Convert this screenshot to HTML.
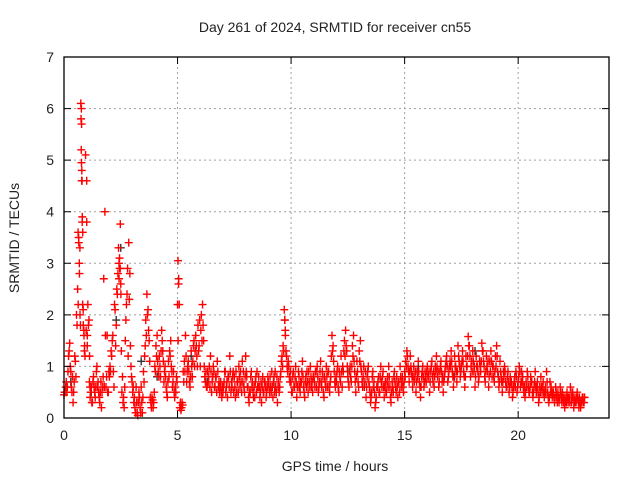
<!DOCTYPE html>
<html><head><meta charset="utf-8"><style>
body{margin:0;background:#fff}
svg{display:block}
text{font-family:"Liberation Sans",sans-serif;font-size:14px;fill:#222}
</style></head><body>
<svg id="chart" width="640" height="480">
<text x="335" y="32" text-anchor="middle">Day 261 of 2024, SRMTID for receiver cn55</text>
<text x="335" y="471" text-anchor="middle">GPS time / hours</text>
<text transform="translate(19,238) rotate(-90)" text-anchor="middle">SRMTID / TECUs</text>
<g id="grid"></g><g id="marks"></g><g id="axes"></g>
</svg>
<script>
const xTicks=[0,5,10,15,20];
const yTicks=[0,1,2,3,4,5,6,7];
const darkTimes=[0.3,1.2,2.3,2.5,3.4,4.1,5.6,6.3,9.3,12.5,15.6,17.2,18.1,19.5,20.8];
const darkValues=[0.7,0.5,1.9,3.3,1.1,0.8,1.2,0.7,0.6,0.9,1.0,0.8,1.3,0.6,0.5];
const times=[0,0.05,0.1,0.15,0.2,0.25,0.3,0.35,0.4,0.45,0.5,0.55,0.6,0.62,0.65,0.68,0.7,0.74,0.75,0.76,0.77,0.78,0.8,0.82,0.85,0.88,0.9,0.95,1.0,1.0,1.05,1.1,1.12,
1.15,1.2,1.25,1.3,1.35,1.4,1.45,1.5,1.55,1.6,1.65,1.7,1.75,1.8,1.85,1.9,1.95,2.0,2.05,2.1,2.15,2.2,2.25,2.3,2.35,2.4,2.42,2.45,2.48,2.5,2.55,2.6,2.65,2.7,2.75,2.8,2.85,2.9,2.95,
3.0,3.05,3.1,3.15,3.2,3.25,3.3,3.35,3.4,3.45,3.5,3.55,3.6,3.65,3.7,3.75,3.8,3.85,3.9,3.95,4.0,4.05,4.1,4.15,4.2,4.25,4.3,4.35,4.4,4.45,4.5,4.55,4.6,4.65,4.7,4.75,4.8,4.85,4.9,4.95,
5.0,5.02,5.05,5.1,5.15,5.2,5.25,5.3,5.35,5.4,5.45,5.5,5.55,5.6,5.65,5.7,5.75,5.8,5.85,5.9,5.95,6.0,6.05,6.1,6.15,6.2,6.25,6.3,6.35,6.4,6.45,6.5,6.55,6.6,6.65,6.7,6.75,6.8,6.85,6.9,6.95,
7.0,7.05,7.1,7.15,7.2,7.25,7.3,7.35,7.4,7.45,7.5,7.55,7.6,7.65,7.7,7.75,7.8,7.85,7.9,7.95,8.0,8.05,8.1,8.15,8.2,8.25,8.3,8.35,8.4,8.45,8.5,8.55,8.6,8.65,8.7,8.75,8.8,8.85,8.9,8.95,
9.0,9.05,9.1,9.15,9.2,9.25,9.3,9.35,9.4,9.45,9.5,9.55,9.6,9.65,9.7,9.72,9.75,9.8,9.85,9.9,9.95,10.0,10.05,10.1,10.15,10.2,10.25,10.3,10.35,10.4,10.45,10.5,10.55,10.6,10.65,10.7,10.75,10.8,10.85,10.9,10.95,
11.0,11.05,11.1,11.15,11.2,11.25,11.3,11.35,11.4,11.45,11.5,11.55,11.6,11.65,11.7,11.75,11.8,11.85,11.9,11.95,12.0,12.05,12.1,12.15,12.2,12.25,12.3,12.35,12.4,12.45,12.5,12.55,12.6,12.65,12.7,12.75,12.8,12.85,12.9,12.95,
13.0,13.05,13.1,13.15,13.2,13.25,13.3,13.35,13.4,13.45,13.5,13.55,13.6,13.65,13.7,13.75,13.8,13.85,13.9,13.95,14.0,14.05,14.1,14.15,14.2,14.25,14.3,14.35,14.4,14.45,14.5,14.55,14.6,14.65,14.7,14.75,14.8,14.85,14.9,14.95,
15.0,15.05,15.1,15.15,15.2,15.25,15.3,15.35,15.4,15.45,15.5,15.55,15.6,15.65,15.7,15.75,15.8,15.85,15.9,15.95,16.0,16.05,16.1,16.15,16.2,16.25,16.3,16.35,16.4,16.45,16.5,16.55,16.6,16.65,16.7,16.75,16.8,16.85,16.9,16.95,
17.0,17.05,17.1,17.15,17.2,17.25,17.3,17.35,17.4,17.45,17.5,17.55,17.6,17.65,17.7,17.75,17.8,17.85,17.9,17.95,18.0,18.05,18.1,18.15,18.2,18.25,18.3,18.35,18.4,18.45,18.5,18.55,18.6,18.65,18.7,18.75,18.8,18.85,18.9,18.95,
19.0,19.05,19.1,19.15,19.2,19.25,19.3,19.35,19.4,19.45,19.5,19.55,19.6,19.65,19.7,19.75,19.8,19.85,19.9,19.95,20.0,20.05,20.1,20.15,20.2,20.25,20.3,20.35,20.4,20.45,20.5,20.55,20.6,20.65,20.7,20.75,20.8,20.85,20.9,20.95,
21.0,21.05,21.1,21.15,21.2,21.25,21.3,21.35,21.4,21.45,21.5,21.55,21.6,21.65,21.7,21.75,21.8,21.85,21.9,21.95,22.0,22.05,22.1,22.15,22.2,22.25,22.3,22.35,22.4,22.45,22.5,22.55,22.6,22.65,22.7,22.75,22.8,22.85,22.9];
const values=[0.45,0.5,0.7,0.6,1.2,1.45,0.9,0.5,0.3,0.7,1.1,2.0,2.5,3.6,3.4,2.8,3.3,6.1,5.8,5.2,4.95,4.6,3.8,2.2,1.8,1.6,1.3,5.1,4.6,3.8,2.2,1.9,0.7,
0.4,0.6,0.3,0.8,0.5,0.6,1.0,0.7,0.4,0.5,0.2,0.6,2.7,4.0,0.6,1.6,0.5,0.8,0.9,1.2,1.6,0.6,2.1,1.8,2.4,3.3,3.0,2.9,3.76,2.6,0.5,0.3,0.2,1.5,2.2,2.9,3.4,2.8,1.0,
0.7,0.6,0.4,0.1,0.3,0.05,0.5,0.2,0.6,0.1,0.9,1.2,1.9,2.4,2.1,1.5,0.4,0.2,0.35,0.3,1.0,1.4,1.6,0.9,1.2,0.8,1.7,1.3,0.7,1.0,0.6,0.4,1.1,1.3,1.5,0.9,0.7,0.5,0.6,0.8,
2.2,3.05,2.7,0.2,0.15,0.3,0.9,1.1,1.6,0.7,1.0,0.9,0.6,1.3,0.8,1.4,1.0,1.6,1.2,1.8,1.4,1.0,2.0,2.2,1.5,0.8,0.9,0.6,0.7,1.0,1.2,0.5,0.8,0.9,0.6,0.8,1.1,0.6,0.5,0.7,0.4,
0.5,0.7,0.9,0.6,0.4,0.8,1.2,0.5,0.6,0.9,0.8,0.4,0.5,0.7,1.0,0.6,0.7,1.1,0.9,0.5,1.2,0.8,0.6,0.3,0.5,0.9,0.7,0.4,0.4,0.8,0.9,0.6,0.6,0.5,0.3,0.8,0.5,0.7,0.4,0.6,
0.7,0.5,0.6,0.9,0.4,0.8,0.9,0.5,0.3,0.7,0.6,0.9,1.2,1.4,2.1,1.9,1.6,1.2,0.9,1.0,0.7,0.7,0.5,0.9,0.6,1.0,0.4,0.6,0.8,0.5,0.7,1.1,0.6,0.4,0.8,0.9,0.5,0.7,1.0,0.6,0.5,
0.8,0.6,0.9,1.0,0.5,0.7,1.1,0.6,0.8,0.4,0.7,1.0,0.6,0.9,0.5,0.8,1.6,1.4,0.9,0.6,0.7,1.0,0.5,0.8,1.2,0.6,0.9,1.5,1.7,1.3,0.8,0.6,1.0,0.7,1.4,1.6,0.9,0.5,1.1,0.7,
1.3,1.5,0.9,0.6,1.0,0.7,0.4,0.8,1.0,0.6,0.3,0.5,0.9,0.7,0.2,0.4,0.6,0.8,0.5,1.0,0.6,0.9,0.4,0.7,0.5,0.8,1.0,0.6,0.3,0.7,0.5,0.9,0.6,0.8,0.4,0.7,1.0,0.6,0.8,0.5,
0.9,1.1,1.3,1.0,0.7,1.2,0.9,0.6,1.0,0.8,0.5,0.9,1.1,0.7,0.4,0.8,1.0,0.6,0.9,0.7,1.0,0.8,0.5,0.9,1.1,0.7,0.6,1.0,1.2,0.8,0.6,0.9,1.1,0.7,0.5,0.8,1.0,1.2,0.7,0.9,
1.1,1.3,0.9,0.6,1.2,1.0,0.7,1.4,1.1,0.8,1.0,1.3,0.9,0.6,1.2,1.0,1.58,1.4,0.8,1.1,1.3,0.9,0.6,1.2,1.0,0.7,1.1,0.9,1.45,1.3,1.0,0.7,1.2,0.9,0.6,1.1,1.3,0.8,1.0,0.7,
1.2,1.4,0.9,0.6,1.1,0.8,0.5,0.9,1.0,0.7,0.6,0.9,0.5,0.8,0.7,0.4,0.6,0.8,0.9,0.5,0.7,1.0,0.6,0.9,0.8,0.5,0.4,0.7,0.9,0.6,0.5,0.8,0.7,0.4,0.6,0.9,0.5,0.7,0.3,0.6,
0.8,0.5,0.7,0.4,0.6,0.9,0.5,0.3,0.7,0.6,0.4,0.5,0.3,0.6,0.4,0.5,0.3,0.6,0.4,0.5,0.3,0.2,0.4,0.5,0.3,0.4,0.6,0.3,0.5,0.2,0.4,0.3,0.5,0.3,0.4,0.2,0.3,0.4,0.3];
const values2=[0.5,0.6,0.5,0.9,1.3,1.0,0.6,0.8,0.5,1.2,0.8,1.8,2.2,3.5,3.0,2.0,1.8,6.0,5.7,4.8,4.6,3.9,3.6,2.1,1.7,1.4,1.2,1.7,1.6,1.4,1.8,1.2,0.6,
0.5,0.3,0.7,0.6,0.4,0.9,0.6,0.5,0.3,0.7,0.5,0.8,0.6,1.6,0.8,0.5,0.9,1.0,1.3,1.5,0.9,2.2,1.4,2.5,2.8,2.7,3.1,2.9,2.4,1.3,0.8,0.4,0.6,1.9,2.4,1.2,2.3,1.4,0.8,
0.5,0.3,0.2,0.6,0.1,0.3,0.4,0.1,0.3,0.4,0.7,1.4,1.6,2.0,1.7,1.1,0.3,0.4,0.2,0.5,0.9,1.2,1.1,0.8,1.0,1.3,1.5,1.1,0.9,0.8,0.5,0.7,0.8,1.2,1.0,0.6,0.9,0.4,0.5,0.7,
1.5,2.6,2.2,0.3,0.2,0.25,0.7,0.9,1.2,0.9,1.1,0.7,0.8,1.0,1.1,1.5,1.3,1.4,1.0,1.3,1.9,1.7,1.5,1.8,1.0,0.7,0.6,0.9,0.8,0.6,0.9,0.7,1.0,0.6,0.8,0.5,0.9,0.7,0.6,0.5,0.6,
0.6,0.9,0.5,0.7,0.8,0.6,0.9,0.7,0.8,0.5,0.6,0.9,0.7,0.5,0.8,0.9,0.5,0.7,0.6,0.8,0.9,0.6,0.4,0.5,0.8,0.6,0.5,0.6,0.7,0.5,0.6,0.8,0.4,0.7,0.6,0.5,0.7,0.6,0.5,0.8,
0.6,0.8,0.5,0.6,0.7,0.5,0.6,0.8,0.6,0.5,0.8,1.1,1.0,1.3,1.9,1.7,1.3,1.0,1.1,0.8,0.9,0.5,0.8,0.6,0.8,0.7,0.6,0.9,0.6,0.7,0.9,0.8,0.5,0.7,0.6,0.7,0.9,0.6,0.8,0.7,0.8,
0.7,0.9,0.6,0.8,0.6,0.9,0.7,0.9,0.5,0.8,0.6,0.8,0.9,0.6,0.7,1.2,1.3,1.1,0.7,0.8,0.9,0.6,0.9,0.7,0.9,1.0,1.3,1.2,1.4,1.0,0.7,0.9,0.8,1.0,1.2,1.1,0.7,0.8,0.9,0.6,
1.1,1.0,0.7,0.8,0.6,0.9,0.6,0.9,0.7,0.5,0.4,0.8,0.6,0.5,0.3,0.6,0.7,0.5,0.8,0.7,0.8,0.6,0.6,0.5,0.7,0.6,0.8,0.4,0.5,0.6,0.8,0.7,0.5,0.6,0.7,0.5,0.8,0.7,0.6,0.7,
0.8,1.0,1.2,0.9,0.9,1.0,0.8,0.8,0.7,0.9,0.7,0.8,0.9,0.6,0.6,0.9,0.8,0.7,0.8,0.9,0.8,0.9,0.7,1.0,0.8,0.9,0.8,0.9,1.0,0.9,0.7,1.0,0.9,0.8,0.7,0.9,1.1,1.0,0.8,1.0,
1.0,1.1,0.8,0.8,1.0,0.9,0.9,1.2,1.0,0.9,1.1,1.1,0.8,0.8,1.0,1.2,1.4,1.2,1.0,0.9,1.1,1.0,0.8,1.0,0.9,0.8,1.0,1.1,1.3,1.1,0.8,0.9,1.0,1.1,0.8,0.9,1.1,1.0,0.8,0.9,
1.0,1.2,0.8,0.7,0.9,0.7,0.7,0.8,0.9,0.6,0.8,0.7,0.6,0.7,0.6,0.5,0.7,0.6,0.8,0.6,0.8,0.9,0.7,0.7,0.6,0.6,0.5,0.6,0.8,0.5,0.6,0.7,0.5,0.5,0.7,0.6,0.6,0.5,0.4,0.5,
0.6,0.6,0.5,0.5,0.5,0.7,0.4,0.4,0.5,0.5,0.5,0.4,0.4,0.5,0.3,0.4,0.4,0.5,0.3,0.4,0.4,0.3,0.3,0.4,0.4,0.3,0.5,0.4,0.4,0.3,0.3,0.4,0.4,0.2,0.3,0.3,0.4,0.3,0.4];
const X0=64,X1=609,Y0=418,Y1=57,XMAX=24,YMAX=7;
const xs=v=>X0+(X1-X0)*v/XMAX, ys=v=>Y0-(Y0-Y1)*v/YMAX;
const NS='http://www.w3.org/2000/svg';
const mk=(t,a)=>{const e=document.createElementNS(NS,t);for(const k in a)e.setAttribute(k,a[k]);return e;};
const grid=document.getElementById('grid'),axes=document.getElementById('axes'),marks=document.getElementById('marks');
xTicks.forEach(t=>{
 if(t>0){const g=mk('line',{x1:xs(t),x2:xs(t),y1:Y1,y2:Y0,stroke:'#a0a0a0','stroke-dasharray':'2,3'});
 
 grid.appendChild(g);}
 const tk=mk('path',{d:`M${xs(t)},${Y0}v-7M${xs(t)},${Y1}v7`,stroke:'#000'});
 
 axes.appendChild(tk);
 const l=mk('text',{x:xs(t),y:Y0+22,'text-anchor':'middle'});l.textContent=t;
 
 axes.appendChild(l);
});
yTicks.forEach(t=>{
 if(t>0&&t<YMAX){const g=mk('line',{x1:X0,x2:X1,y1:ys(t),y2:ys(t),stroke:'#a0a0a0','stroke-dasharray':'2,3'});
 
 grid.appendChild(g);}
 const tk=mk('path',{d:`M${X0},${ys(t)}h7M${X1},${ys(t)}h-7`,stroke:'#000'});
 
 axes.appendChild(tk);
 const l=mk('text',{x:X0-10,y:ys(t)+5,'text-anchor':'end'});l.textContent=t;
 
 axes.appendChild(l);
});
const frame=mk('rect',{x:X0,y:Y1,width:X1-X0,height:Y0-Y1,fill:'none',stroke:'#000','stroke-width':1.3});

axes.appendChild(frame);
function plus(t,v,c,name){
 const p=mk('path',{d:`M${xs(t)-4},${ys(v)}h8M${xs(t)},${ys(v)-4}v8`,stroke:c,'stroke-width':1.4});
 
 
 marks.appendChild(p);
}
darkTimes.forEach((t,i)=>plus(t,darkValues[i],'#333','dark-point'));
times.forEach((t,i)=>plus(t,values[i],'#f00','srmtid-point'));
values2.forEach((v,i)=>{if(i<times.length)plus(times[i]+0.025,v,'#f00','srmtid-point');});
</script>
</body></html>
